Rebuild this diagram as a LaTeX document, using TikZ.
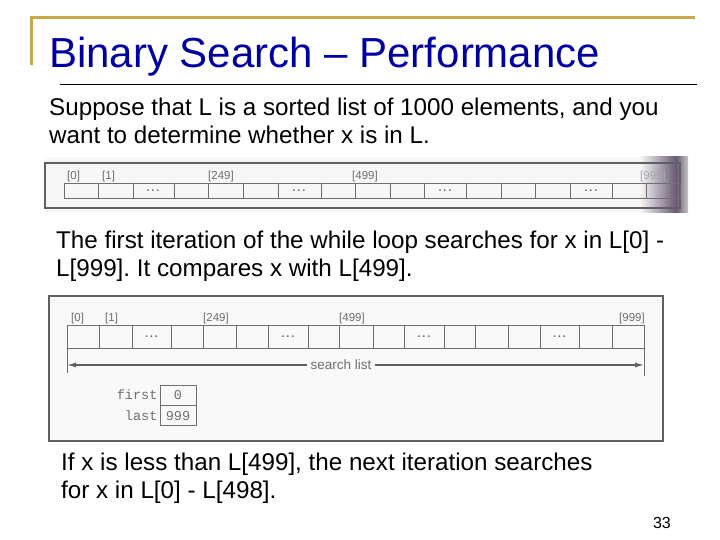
\documentclass[tikz,border=0pt]{standalone}
\usepackage{fontspec}
\setmainfont{Liberation Sans}
\setsansfont{Liberation Sans}
\setmonofont{Liberation Mono}
\usetikzlibrary{arrows.meta, positioning}
\definecolor{slidegold}{RGB}{201,168,76}
\definecolor{titleblue}{RGB}{0,0,160}
\definecolor{scanframe}{RGB}{95,95,100}
\definecolor{scanink}{RGB}{110,110,115}
\definecolor{scanshadow}{RGB}{105,90,115}
\frenchspacing
\tikzset{every node/.style={inner sep=0pt}, % Text sits right on its coordinate
body/.style={ % Sets the properties for the slide text
anchor=base west,
font=\fontsize{24.2}{28}\selectfont},
idx/.style={ % Index labels above the cells
anchor=base west,
text=scanink,
font=\fontsize{11.5}{13}\selectfont},
dots/.style={text=scanink, font=\bfseries\fontsize{11}{12}\selectfont},
mono/.style={font=\ttfamily\fontsize{13.5}{15}\selectfont, text=scanink},
cellline/.style={draw=scanink, line width=0.8pt},
frame/.style={draw=scanframe, line width=1.6pt}}

\begin{document}
\begin{tikzpicture}[x=1pt, y=-1pt]
    \useasboundingbox (0,0) rectangle (720,540);
    
    % slide heading
    \draw[slidegold, line width=3pt] (31,65) -- (31,18) -- (695,18);
    \node[anchor=base west, text=titleblue, font=\fontsize{42}{48}\selectfont] (title) at (49,68) {Binary Search -- Performance};
    \draw[line width=1pt] (60,85) -- (697,85);
    
    \node[body] (intro1) at (49,116) {Suppose that L is a sorted list of 1000 elements, and you};
    \node[body] (intro2) at (49,144) {want to determine whether x is in L.};
    
    % first scanned list
    \fill[gray!6] (45,157) rectangle (688,213);
    \shade[left color=gray!6, right color=scanshadow] (640,157) rectangle (676,213);
    \shade[left color=scanshadow, right color=gray!45] (676,157) rectangle (688,213);
    \draw[frame] (45,163) rectangle (680,208);
    \draw[cellline] (64,183) rectangle (680,198);
    \foreach \x in {98,133,174,208,243,278,321,355,390,424,466,501,535,570,612,646}
        \draw[cellline] (\x,183) -- (\x,198);
    \foreach \x/\n in {153/1,299/2,445/3,591/4}
        \node[dots] (dotsA\n) at (\x,190.5) {.\,.\,.};
    \node[idx] (a0) at (67,180) {[0]};
    \node[idx] (a1) at (102,180) {[1]};
    \node[idx] (a249) at (208,180) {[249]};
    \node[idx] (a499) at (352,180) {[499]};
    \node[idx, text=gray!70] (a999) at (640,180) {[999]};
    
    \node[body] (iter1) at (56,248) {The first iteration of the while loop searches for x in L[0] -};
    \node[body] (iter2) at (56,276) {L[999]. It compares x with L[499].};
    
    % second scanned list
    \fill[gray!5] (49,296) rectangle (663,441);
    \draw[frame] (49,296) rectangle (663,441);
    \draw[cellline] (67,325) rectangle (644,348);
    \foreach \x in {99,132,171,203,236,268,308,339,373,404,444,475,508,540,579,612}
        \draw[cellline] (\x,325) -- (\x,348);
    \foreach \x/\n in {151.5/1,288/2,424/3,559.5/4}
        \node[dots] (dotsB\n) at (\x,336.5) {.\,.\,.};
    \node[idx] (b0) at (71,321) {[0]};
    \node[idx] (b1) at (105,321) {[1]};
    \node[idx] (b249) at (203,321) {[249]};
    \node[idx] (b499) at (339,321) {[499]};
    \node[idx, anchor=base east] (b999) at (645,321) {[999]};
    
    \coordinate (lowEnd) at (67,348);
    \coordinate (highEnd) at (644,348);
    \draw[cellline] (lowEnd) -- ++(0,25);
    \draw[cellline] (highEnd) -- ++(0,28);
    \node[text=scanink, font=\fontsize{13.5}{15}\selectfont] (search) at (341,365) {search list};
    \draw[scanframe, line width=1.2pt, -{Latex[length=9pt, width=5pt]}] (search.west) ++(-3,0) -- (67,365);
    \draw[scanframe, line width=1.2pt, -{Latex[length=9pt, width=5pt]}] (search.east) ++(3,0) -- (644,365);
    
    \node[draw=scanink, line width=0.8pt, minimum width=36pt, minimum height=20pt, mono] (firstbox) at (178,395) {0};
    \node[draw=scanink, line width=0.8pt, minimum width=36pt, minimum height=20pt, mono, below=0pt of firstbox] (lastbox) {999};
    \node[anchor=east, mono] (first) at ([xshift=-2pt]firstbox.west) {first};
    \node[anchor=east, mono] (last) at ([xshift=-2pt]lastbox.west) {last};
    
    \node[body] (next1) at (61,470) {If x is less than L[499], the next iteration searches};
    \node[body] (next2) at (61,498) {for x in L[0] - L[498].};
    
    \node[anchor=base east, font=\fontsize{16}{18}\selectfont] (page) at (671,528) {33};
    
\end{tikzpicture}
\end{document}
